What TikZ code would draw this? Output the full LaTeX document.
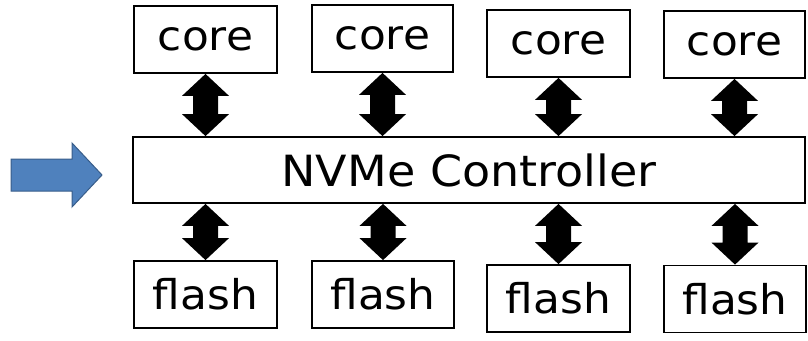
\documentclass[tikz,border=0pt]{standalone}
\usepackage{fontspec}
\setmainfont{DejaVu Sans}
\newfontfamily\labelfont[FakeStretch=1.07]{DejaVu Sans}
\usetikzlibrary{calc}

\definecolor{arrowblue}{HTML}{4F81BD}
\definecolor{arrowedge}{HTML}{385D8A}

\tikzset{
  unitbox/.style={draw=black, line width=1.8pt, fill=white, inner sep=0pt,
    minimum height=67pt, font=\labelfont\fontsize{41}{41}\selectfont},
  ctrlbox/.style={draw=black, line width=1.8pt, fill=white, inner sep=0pt,
    minimum width=672pt, minimum height=66pt,
    font=\labelfont\fontsize{43}{43}\selectfont},
  link/.style={fill=black, draw=none},
  inarrow/.style={fill=arrowblue, draw=arrowedge, line width=1pt, line join=miter}
}

% block double arrow between two points stacked vertically (#1 above #2)
\newcommand\blocklink[2]{%
  \fill[link] (#1)
    -- ($(#1)+(23.5,22)$) -- ($(#1)+(12.5,22)$)
    -- ($(#2)+(12.5,-22)$) -- ($(#2)+(23.5,-22)$)
    -- (#2)
    -- ($(#2)+(-23.5,-22)$) -- ($(#2)+(-12.5,-22)$)
    -- ($(#1)+(-12.5,22)$) -- ($(#1)+(-23.5,22)$) -- cycle;}

\begin{document}
\begin{tikzpicture}[x=1pt, y=-1pt]
  \useasboundingbox (0,0) rectangle (808,340);

  % cores on top
  \node[unitbox, minimum width=143pt] (c1) at (205.5,39.5) {core};
  \node[unitbox, minimum width=141pt] (c2) at (382.5,38.5) {core};
  \node[unitbox, minimum width=143pt] (c3) at (558.5,43.5) {core};
  \node[unitbox, minimum width=141pt] (c4) at (734.5,44.5) {core};

  % controller
  \node[ctrlbox] (ctrl) at (469,170) {NVMe Controller};

  % flash chips below
  \node[unitbox, minimum width=143pt] (f1) at (205.5,294.5) {flash};
  \node[unitbox, minimum width=142pt] (f2) at (383,294.5) {flash};
  \node[unitbox, minimum width=143pt] (f3) at (558.5,298.5) {flash};
  \node[unitbox, minimum width=142pt] (f4) at (735,299) {flash};

  % bidirectional links
  \foreach \n in {1,2,3,4} {
    \coordinate (ct\n) at (c\n.south |- ctrl.north);
    \coordinate (cb\n) at (f\n.north |- ctrl.south);
    \blocklink{c\n.south}{ct\n}
    \blocklink{cb\n}{f\n.north}
  }

  % incoming request arrow
  \draw[inarrow] (11,159) -- (72,159) -- (72,143) -- (102,175) -- (72,207)
    -- (72,191) -- (11,191) -- cycle;
\end{tikzpicture}
\end{document}
